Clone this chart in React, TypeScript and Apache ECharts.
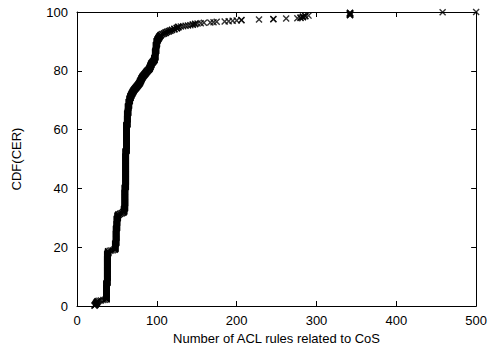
import React, { useEffect, useRef } from "react";
import * as echarts from "echarts";

// Distinct values of "Number of ACL rules related to CoS" and how many CERs have each value
const ruleValues = [
  22, 23, 24, 25, 26, 28, 30, 33, 35,
  37, 38, 39, 41, 43, 45, 47,
  48, 49, 50, 51, 52, 54, 56, 58,
  59, 60, 61, 62, 63, 64, 65, 66,
  67, 68, 69, 70, 71, 72, 73, 74, 75, 76, 77,
  78, 79, 80, 81, 82,
  83, 84, 85, 86, 87, 88, 89, 90,
  91, 92, 93, 94, 95, 96,
  97, 98, 99, 100,
  101, 102, 103, 104, 105,
  107, 109, 111, 113, 115, 117, 119,
  122, 125, 127,
  130, 133, 136, 139, 142, 145, 148, 151,
  155, 159, 167, 171, 175, 185, 190, 195, 200, 206,
  228, 246, 262,
  276, 280, 283, 286, 290,
  342, 458, 500,
];
const cerCounts = [
  2, 3, 4, 4, 2, 1, 1, 1, 1,
  50, 90, 8, 1, 1, 1, 2,
  18, 46, 30, 10, 3, 2, 2, 3,
  10, 65, 110, 80, 35, 22, 14, 10,
  7, 5, 5, 4, 4, 3, 3, 3, 3, 3, 3,
  4, 5, 5, 5, 4,
  3, 3, 3, 3, 3, 3, 2, 3,
  5, 6, 6, 3, 3, 3,
  8, 20, 20, 12,
  5, 4, 4, 3, 3,
  2, 2, 3, 2, 2, 2, 2,
  3, 3, 3,
  1, 1, 1, 1, 1, 2, 2, 1,
  1, 1, 1, 1, 1, 1, 1, 1, 1, 2,
  1, 2, 1,
  1, 2, 3, 2, 1,
  9, 1, 1,
];

const xTicks = [0, 100, 200, 300, 400, 500];
const yTicks = [0, 20, 40, 60, 80, 100];

const xName = "Number of ACL rules related to CoS";
const yName = "CDF(CER)";

function buildCdf(): number[][] {
  const total = cerCounts.reduce((a, b) => a + b, 0);
  const pts: number[][] = [];
  let i = 0;
  ruleValues.forEach((v, k) => {
    for (let c = 0; c < cerCounts[k]; c++) {
      i++;
      pts.push([v, (i / total) * 100]);
    }
  });
  return pts;
}

const FONT = "Liberation Sans, Arial, Helvetica, sans-serif";
const X_SYMBOL =
  "path://M0,1.4L1.4,0L5,3.6L8.6,0L10,1.4L6.4,5L10,8.6L8.6,10L5,6.4L1.4,10L0,8.6L3.6,5Z";

export default function App() {
  const ref = useRef<HTMLDivElement>(null);
  useEffect(() => {
    if (!ref.current) return;
    const chart = echarts.init(ref.current, undefined, { renderer: "svg" });
    const axisCommon = {
      axisLine: { show: true, onZero: false, lineStyle: { color: "#000", width: 1 } },
      axisTick: { show: true, inside: true, length: 5, lineStyle: { color: "#000", width: 1 } },
      splitLine: { show: false },
    };
    const xInterval = xTicks[1] - xTicks[0];
    const yInterval = yTicks[1] - yTicks[0];
    chart.setOption({
      animation: false,
      backgroundColor: "#fff",
      grid: { left: 77, right: 10, top: 12, bottom: 44, containLabel: false },
      xAxis: [
        {
          ...axisCommon,
          type: "value",
          position: "bottom",
          min: xTicks[0],
          max: xTicks[xTicks.length - 1],
          interval: xInterval,
          name: xName,
          nameLocation: "middle",
          nameGap: 26,
          nameTextStyle: { color: "#000", fontSize: 13, fontFamily: FONT },
          axisLabel: { color: "#000", fontSize: 13, fontFamily: FONT, margin: 8 },
        },
        {
          ...axisCommon,
          type: "value",
          position: "top",
          min: xTicks[0],
          max: xTicks[xTicks.length - 1],
          interval: xInterval,
          axisLabel: { show: false },
        },
      ],
      yAxis: [
        {
          ...axisCommon,
          type: "value",
          position: "left",
          min: yTicks[0],
          max: yTicks[yTicks.length - 1],
          interval: yInterval,
          name: yName,
          nameLocation: "middle",
          nameGap: 54,
          nameRotate: 90,
          nameTextStyle: { color: "#000", fontSize: 13, fontFamily: FONT },
          axisLabel: { color: "#000", fontSize: 13, fontFamily: FONT, margin: 9 },
        },
        {
          ...axisCommon,
          type: "value",
          position: "right",
          min: yTicks[0],
          max: yTicks[yTicks.length - 1],
          interval: yInterval,
          axisLabel: { show: false },
        },
      ],
      series: [
        {
          type: "scatter",
          data: buildCdf(),
          symbol: X_SYMBOL,
          symbolSize: 7,
          itemStyle: { color: "#000" },
          clip: false,
        },
      ],
    });
    return () => chart.dispose();
  }, []);
  return (
    <div
      ref={ref}
      style={{ position: "fixed", left: 0, top: 0, width: 490, height: 350 }}
    />
  );
}
